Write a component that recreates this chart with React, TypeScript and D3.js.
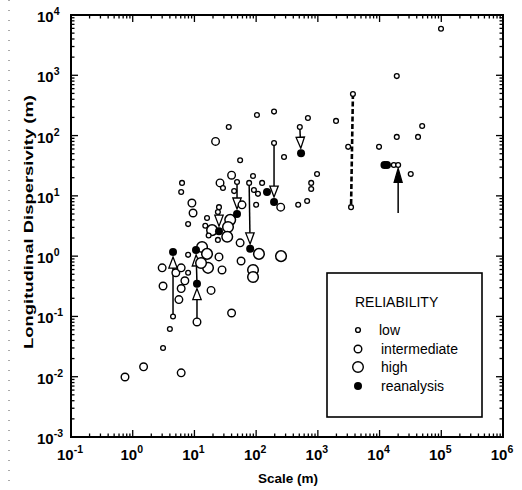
import React from 'react';
import * as d3 from 'd3';

// [scale (m), longitudinal dispersivity (m)]
const lowPts = [
  [99000, 5900], [19000, 970], [3700, 490], [3450, 6.5], [195, 250], [103, 220],
  [36, 139], [690, 196], [1970, 175], [510, 139], [195, 75], [49000, 144],
  [42000, 95], [19000, 95], [3100, 65], [9800, 65], [55, 39], [283, 44],
  [970, 23], [780, 16.4], [780, 13], [670, 8.2], [480, 7.1], [32000, 23],
  [17000, 32.5], [20000, 32.5], [6.3, 16.4], [6.1, 11.6], [89, 21.4], [49, 17],
  [77, 16.4], [125, 16.4], [29, 13.5], [44, 12], [92, 12.5], [107, 10.8],
  [100, 7.1], [7.9, 3.4], [16, 4.3], [25, 6.5], [24, 5.4], [15, 3.2],
  [17, 2.2], [24, 1.86], [7.9, 1.05], [7.9, 0.53], [4.5, 0.1], [4.0, 0.062],
  [3.1, 0.03],
];
const intermediatePts = [
  [0.75, 0.0099], [1.5, 0.0146], [6.1, 0.0116], [22, 80], [40, 22], [26, 16.4],
  [9.1, 7.6], [9.5, 5.2], [250, 6.5], [59, 7.1], [55, 1.66], [57, 0.83],
  [25, 0.97], [28, 0.59], [40, 0.114], [18.6, 0.27], [3.0, 0.64], [3.1, 0.32],
  [5.0, 0.53], [6.1, 0.64], [7.0, 0.39], [6.1, 0.29], [5.6, 0.19], [11, 0.081],
];
const highPts = [
  [19.3, 2.7], [38, 4.0], [35, 3.05], [34, 2.1], [13.3, 1.42], [16, 1.09],
  [16.6, 0.64], [12.8, 0.77], [111, 1.09], [253, 1.0], [89, 0.59], [89, 0.45],
];
const reanalysisPts = [
  [4.5, 1.17], [10.6, 1.27], [11, 0.35], [25, 2.6], [49, 5.0], [80, 1.32],
  [150, 11.6], [195, 7.9], [534, 51], [12000, 32.5], [13200, 32.5],
];
// original value -> reanalysed value
const openArrows = [
  [[4.5, 0.1], [4.5, 1.17]], [[11, 0.081], [11, 0.35]], [[11, 0.35], [10.6, 1.27]],
  [[25, 6.5], [25, 2.6]], [[49, 17], [49, 5.0]], [[77, 16.4], [80, 1.32]],
  [[195, 75], [195, 7.9]], [[510, 139], [534, 51]],
];
const solidArrow = [[20000, 5.2], [20000, 32.5]];
const dashedRange = [[3700, 490], [3450, 6.5]];

const xExps = [-1, 0, 1, 2, 3, 4, 5, 6];
const yExps = [-3, -2, -1, 0, 1, 2, 3, 4];
const legendItems = ['low', 'intermediate', 'high', 'reanalysis'];

const W = 522, H = 490;
const L = 71, R = 503, T = 15, B = 437;
const FONT = 'Liberation Sans, Arial, Helvetica, sans-serif';

const x = d3.scaleLog().domain([0.1, 1e6]).range([L, R]);
const y = d3.scaleLog().domain([1e-3, 1e4]).range([B, T]);

const RAD = { low: 2.4, intermediate: 3.8, high: 5.3, reanalysis: 4 };

const isMajor = (v) => Math.abs(Math.log10(v) - Math.round(Math.log10(v))) < 1e-6;

function Arrow({ from, to, solid }) {
  const x0 = x(from[0]), y0 = y(from[1]);
  const x1 = x(to[0]), y1 = y(to[1]);
  const len = Math.hypot(x1 - x0, y1 - y0);
  const ux = (x1 - x0) / len, uy = (y1 - y0) / len;
  const gap = solid ? RAD.low + 1 : RAD.reanalysis + 1;
  const headLen = solid ? 14 : 11;
  const half = solid ? 4 : 4.2;
  const tx = x1 - ux * gap, ty = y1 - uy * gap;
  const bx = tx - ux * headLen, by = ty - uy * headLen;
  const px = -uy, py = ux;
  const start = solid ? 0 : RAD.low;
  const head = `M${tx},${ty}L${bx + px * half},${by + py * half}L${bx - px * half},${by - py * half}Z`;
  return (
    <g>
      <line x1={x0 + ux * start} y1={y0 + uy * start} x2={bx} y2={by} stroke="#000" strokeWidth={1.5} />
      <path d={head} fill={solid ? '#000' : '#fff'} stroke="#000" strokeWidth={1.3} strokeLinejoin="miter" />
    </g>
  );
}

export default function App() {
  const xTicks = x.ticks();
  const yTicks = y.ticks();
  const circles = (pts, r, sw, key) =>
    pts.map((d, i) => (
      <circle key={key + i} cx={x(d[0])} cy={y(d[1])} r={r} fill="#fff" stroke="#000" strokeWidth={sw} />
    ));

  const lx = 358;
  const legendY = [330, 349, 367, 386];

  return (
    <svg width={W} height={H} style={{ position: 'absolute', left: 0, top: 0, background: '#fff' }} fontFamily={FONT}>
      <rect width={W} height={H} fill="#fff" />
      {/* scan edge */}
      <line x1={9} y1={0} x2={9} y2={H} stroke="#555" strokeWidth={1} strokeDasharray="1 9" />

      {/* ticks on all four sides, pointing inward */}
      {xTicks.map((v, i) => {
        const len = isMajor(v) ? 7 : 3.5;
        return (
          <g key={'xt' + i} stroke="#000" strokeWidth={1.3}>
            <line x1={x(v)} x2={x(v)} y1={B} y2={B - len} />
            <line x1={x(v)} x2={x(v)} y1={T} y2={T + len} />
          </g>
        );
      })}
      {yTicks.map((v, i) => {
        const len = isMajor(v) ? 7 : 3.5;
        return (
          <g key={'yt' + i} stroke="#000" strokeWidth={1.3}>
            <line x1={L} x2={L + len} y1={y(v)} y2={y(v)} />
            <line x1={R} x2={R - len} y1={y(v)} y2={y(v)} />
          </g>
        );
      })}
      <rect x={L} y={T} width={R - L} height={B - T} fill="none" stroke="#000" strokeWidth={2} />

      {/* tick labels */}
      {xExps.map((e) => (
        <text key={'xl' + e} x={x(Math.pow(10, e)) - 1} y={460} textAnchor="middle" fontSize={15} fontWeight="bold">
          10<tspan fontSize={10.5} dy={-7}>{e}</tspan>
        </text>
      ))}
      {yExps.map((e) => (
        <text key={'yl' + e} x={37} y={y(Math.pow(10, e)) + 7} fontSize={15} fontWeight="bold">
          10<tspan fontSize={10.5} dy={-7}>{e}</tspan>
        </text>
      ))}

      {/* axis titles */}
      <text x={288} y={483} textAnchor="middle" fontSize={13.5} fontWeight="bold">Scale (m)</text>
      <text
        transform="translate(33,222) rotate(-90)"
        textAnchor="middle"
        fontSize={13.5}
        fontWeight="bold"
        textLength={254}
        lengthAdjust="spacingAndGlyphs"
      >
        Longitudinal Dispersivity (m)
      </text>

      {/* dashed range line */}
      <line
        x1={x(dashedRange[0][0])} y1={y(dashedRange[0][1])}
        x2={x(dashedRange[1][0])} y2={y(dashedRange[1][1])}
        stroke="#000" strokeWidth={2.6} strokeDasharray="5 2.5"
      />

      {/* arrows */}
      {openArrows.map((a, i) => <Arrow key={'a' + i} from={a[0]} to={a[1]} />)}
      <Arrow from={solidArrow[0]} to={solidArrow[1]} solid />

      {/* points */}
      {circles(highPts, RAD.high, 1.5, 'h')}
      {circles(intermediatePts, RAD.intermediate, 1.4, 'm')}
      {circles(lowPts, RAD.low, 1.3, 'l')}
      {reanalysisPts.map((d, i) => (
        <circle key={'r' + i} cx={x(d[0])} cy={y(d[1])} r={RAD.reanalysis} fill="#000" />
      ))}

      {/* legend */}
      <rect x={327} y={273} width={155} height={144} fill="#fff" stroke="#000" strokeWidth={1.6} />
      <text x={355} y={307} fontSize={14}>RELIABILITY</text>
      {legendItems.map((name, i) => {
        const r = RAD[name];
        const filled = name === 'reanalysis';
        return (
          <g key={name}>
            <circle cx={lx} cy={legendY[i]} r={r} fill={filled ? '#000' : '#fff'} stroke="#000"
              strokeWidth={filled ? 0 : 1.4} />
            <text x={i === 0 ? 379 : 381} y={legendY[i] + 4.5} fontSize={14}>{name}</text>
          </g>
        );
      })}
    </svg>
  );
}
